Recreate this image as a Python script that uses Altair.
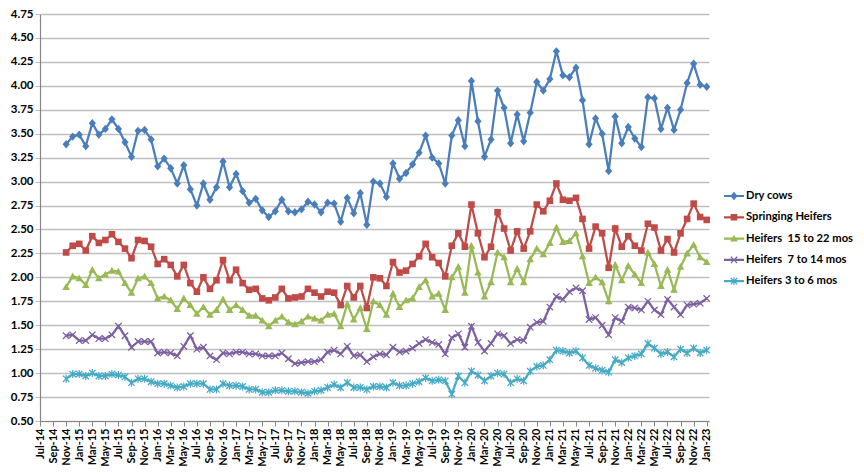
import altair as alt
import pandas as pd

SERIES = ["Dry cows", "Springing Heifers", "Heifers\u00a0 15 to 22 mos",
          "Heifers\u00a0 7 to 14 mos", "Heifers 3 to 6 mos"]
COLORS = ["#4A7EBB", "#BE4B48", "#98B954", "#7D60A0", "#46AAC5"]

# monthly values, Nov-14 .. Jan-23
dry_cows = [3.39, 3.47,
            3.49, 3.37, 3.61, 3.49, 3.55, 3.65, 3.55, 3.41, 3.26, 3.53, 3.54, 3.44,
            3.16, 3.24, 3.14, 2.98, 3.17, 2.92, 2.75, 2.98, 2.81, 2.94, 3.21, 2.94,
            3.08, 2.90, 2.78, 2.82, 2.70, 2.63, 2.69, 2.81, 2.69, 2.68, 2.71, 2.79,
            2.76, 2.68, 2.78, 2.77, 2.58, 2.83, 2.67, 2.88, 2.55, 3.00, 2.98, 2.84,
            3.19, 3.03, 3.09, 3.18, 3.30, 3.48, 3.25, 3.19, 2.98, 3.48, 3.64, 3.37,
            4.05, 3.63, 3.26, 3.44, 3.95, 3.77, 3.40, 3.70, 3.42, 3.72, 4.04, 3.95,
            4.07, 4.36, 4.11, 4.09, 4.19, 3.85, 3.39, 3.66, 3.50, 3.11, 3.68, 3.40,
            3.57, 3.45, 3.36, 3.88, 3.87, 3.55, 3.77, 3.54, 3.75, 4.03, 4.23, 4.01,
            3.99]
springing = [2.26, 2.33,
             2.35, 2.28, 2.43, 2.36, 2.39, 2.45, 2.37, 2.30, 2.20, 2.39, 2.38, 2.32,
             2.14, 2.19, 2.13, 2.01, 2.13, 1.94, 1.85, 2.00, 1.88, 1.97, 2.18, 1.97,
             2.08, 1.94, 1.87, 1.88, 1.78, 1.76, 1.79, 1.88, 1.78, 1.79, 1.80, 1.88,
             1.84, 1.80, 1.85, 1.84, 1.71, 1.91, 1.79, 1.91, 1.68, 2.00, 1.99, 1.91,
             2.16, 2.05, 2.07, 2.14, 2.22, 2.35, 2.21, 2.15, 2.01, 2.33, 2.46, 2.32,
             2.76, 2.46, 2.21, 2.32, 2.68, 2.51, 2.28, 2.48, 2.30, 2.48, 2.76, 2.69,
             2.80, 2.98, 2.81, 2.80, 2.83, 2.61, 2.30, 2.53, 2.46, 2.10, 2.51, 2.32,
             2.43, 2.33, 2.28, 2.56, 2.52, 2.28, 2.40, 2.26, 2.46, 2.61, 2.77, 2.63,
             2.60]
heifers_15_22 = [1.90, 2.01,
                 1.99, 1.92, 2.08, 1.99, 2.03, 2.07, 2.06, 1.94, 1.84, 1.99, 2.01, 1.94,
                 1.78, 1.80, 1.76, 1.67, 1.78, 1.71, 1.62, 1.69, 1.61, 1.66, 1.77, 1.66,
                 1.71, 1.66, 1.60, 1.60, 1.55, 1.49, 1.55, 1.59, 1.53, 1.51, 1.54, 1.59,
                 1.57, 1.55, 1.61, 1.62, 1.49, 1.72, 1.56, 1.68, 1.46, 1.75, 1.71, 1.61,
                 1.83, 1.69, 1.76, 1.78, 1.90, 1.97, 1.80, 1.83, 1.66, 2.00, 2.11, 1.84,
                 2.33, 2.05, 1.80, 1.95, 2.26, 2.21, 1.95, 2.09, 1.95, 2.19, 2.30, 2.24,
                 2.36, 2.52, 2.37, 2.38, 2.46, 2.22, 1.94, 2.00, 1.95, 1.75, 2.13, 1.97,
                 2.12, 2.03, 1.94, 2.26, 2.14, 1.91, 2.08, 1.87, 2.11, 2.25, 2.34, 2.21,
                 2.16]
heifers_7_14 = [1.39, 1.40,
                1.34, 1.34, 1.40, 1.36, 1.36, 1.40, 1.49, 1.39, 1.27, 1.33, 1.33, 1.33,
                1.21, 1.22, 1.21, 1.18, 1.28, 1.39, 1.25, 1.27, 1.18, 1.14, 1.21, 1.20,
                1.22, 1.22, 1.20, 1.20, 1.18, 1.18, 1.18, 1.21, 1.15, 1.10, 1.11, 1.12,
                1.12, 1.14, 1.22, 1.24, 1.20, 1.28, 1.18, 1.19, 1.12, 1.17, 1.20, 1.19,
                1.27, 1.22, 1.23, 1.26, 1.31, 1.35, 1.32, 1.30, 1.20, 1.37, 1.41, 1.27,
                1.49, 1.32, 1.23, 1.31, 1.41, 1.39, 1.31, 1.35, 1.34, 1.48, 1.53, 1.54,
                1.69, 1.80, 1.77, 1.85, 1.89, 1.86, 1.56, 1.58, 1.50, 1.40, 1.58, 1.54,
                1.69, 1.68, 1.66, 1.75, 1.66, 1.61, 1.77, 1.69, 1.61, 1.71, 1.72, 1.73,
                1.78]
heifers_3_6 = [0.94, 0.99,
               0.99, 0.97, 1.00, 0.97, 0.97, 0.99, 0.98, 0.96, 0.90, 0.94, 0.94, 0.91,
               0.89, 0.89, 0.87, 0.85, 0.86, 0.89, 0.89, 0.89, 0.83, 0.83, 0.89, 0.87,
               0.87, 0.86, 0.83, 0.83, 0.80, 0.80, 0.82, 0.82, 0.81, 0.81, 0.80, 0.79,
               0.81, 0.82, 0.85, 0.88, 0.85, 0.90, 0.85, 0.85, 0.83, 0.86, 0.86, 0.85,
               0.90, 0.87, 0.87, 0.89, 0.91, 0.95, 0.92, 0.93, 0.92, 0.78, 0.97, 0.90,
               1.02, 0.98, 0.92, 0.97, 1.00, 0.99, 0.90, 0.94, 0.92, 1.02, 1.07, 1.08,
               1.14, 1.24, 1.23, 1.21, 1.23, 1.16, 1.08, 1.05, 1.03, 1.01, 1.14, 1.11,
               1.16, 1.18, 1.20, 1.31, 1.26, 1.20, 1.22, 1.17, 1.25, 1.21, 1.26, 1.21,
               1.24]

VALUES = [dry_cows, springing, heifers_15_22, heifers_7_14, heifers_3_6]

months = pd.date_range("2014-11-01", periods=len(dry_cows), freq="MS")
month_index = [(d.year - 2014) * 12 + d.month - 7 for d in months]  # 0 = Jul-14

tick_dates = pd.date_range("2014-07-01", "2023-01-01", freq="2MS")
X_TICK_LABELS = [d.strftime("%b-%y") for d in tick_dates]
X_TICK_VALUES = [(d.year - 2014) * 12 + d.month - 7 for d in tick_dates]
Y_TICKS = [0.5 + 0.25 * i for i in range(18)]

rows = []
for s, vals in zip(SERIES, VALUES):
    for m, v in zip(month_index, vals):
        rows.append({"m": m, "series": s, "value": v})
df = pd.DataFrame(rows)

# marker paths (unit = sqrt(size)/2 px)
DIAMOND = "M0,-0.42L0.36,0L0,0.42L-0.36,0Z"
SQUARE = "M-0.33,-0.33L0.33,-0.33L0.33,0.33L-0.33,0.33Z"
TRIANGLE = "M0,-0.38L0.38,0.3L-0.38,0.3Z"
XMARK = ("M-0.275,-0.365L0.365,0.275L0.275,0.365L-0.365,-0.275Z"
         "M0.275,-0.365L0.365,-0.275L-0.275,0.365L-0.365,0.275Z")
STAR = XMARK + "M-0.06,-0.4L0.06,-0.4L0.06,0.4L-0.06,0.4Z"
MARKERS = [DIAMOND, SQUARE, TRIANGLE, XMARK, STAR]
LINE = "M-1,-0.11L1,-0.11L1,0.11L-1,0.11Z"
LEGEND_SYMBOLS = [LINE + p for p in MARKERS]

FONT = "Lato"
label_expr = "[" + ",".join("'%s'" % t for t in X_TICK_LABELS) + "][round(datum.value/2)]"

x_enc = alt.X("m:Q", title=None,
              scale=alt.Scale(domain=[0, 102.35], nice=False, zero=False),
              axis=alt.Axis(values=X_TICK_VALUES, labelExpr=label_expr, labelAngle=270,
                            grid=False, labelFont=FONT, labelFontSize=11,
                            labelFontWeight="bold", labelColor="#000000",
                            domainColor="#868686", domainWidth=1.2,
                            tickColor="#868686", tickSize=5, labelPadding=2,
                            labelOverlap=False, labelFlush=False))
y_enc = alt.Y("value:Q", title=None,
              scale=alt.Scale(domain=[0.5, 4.75], nice=False, zero=False),
              axis=alt.Axis(values=Y_TICKS, format=".2f", grid=True,
                            gridColor="#BFBFBF", gridWidth=1.4,
                            labelFont=FONT, labelFontSize=11.5, labelFontWeight="bold",
                            labelColor="#000000", domainColor="#868686",
                            domainWidth=1.2, tickColor="#BFBFBF", tickSize=5,
                            labelPadding=2))

layers = []
for s, c, mk in zip(SERIES, COLORS, MARKERS):
    sub = alt.Chart(df).transform_filter(alt.datum.series == s)
    layers.append(sub.mark_line(color=c, strokeWidth=2.25).encode(x=x_enc, y=y_enc))
    layers.append(sub.mark_point(filled=True, shape=mk, size=400, color=c,
                                 opacity=1, strokeWidth=0).encode(x=x_enc, y=y_enc))

legend = alt.Legend(title=None, orient="none", legendX=684, legendY=172,
                    symbolSize=400, symbolStrokeWidth=0, labelFont=FONT,
                    labelFontSize=11.2, labelFontWeight="bold", labelColor="#000000",
                    labelOffset=2, rowPadding=5.3, padding=0, labelLimit=300)
legend_layer = alt.Chart(df).transform_filter("datum.value < 0").mark_point(
    filled=True, size=400, strokeWidth=0, opacity=1).encode(
    x=x_enc, y=y_enc,
    color=alt.Color("series:N", scale=alt.Scale(domain=SERIES, range=COLORS), legend=legend),
    shape=alt.Shape("series:N", scale=alt.Scale(domain=SERIES, range=LEGEND_SYMBOLS), legend=legend),
)
layers.append(legend_layer)

chart = alt.layer(*layers).properties(
    width=669, height=407,
    padding={"left": 32, "top": 6, "right": 147, "bottom": 45},
    autosize=alt.AutoSizeParams(type="none"),
    background="white",
).configure_view(stroke=None)

chart.save("out.html", embed_options={"renderer": "svg", "actions": False})
